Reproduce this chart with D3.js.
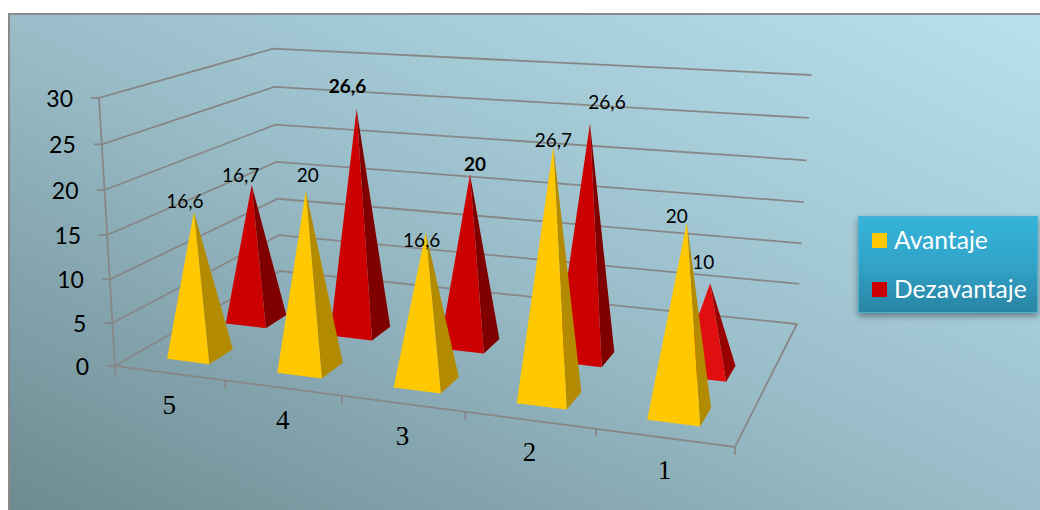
<!DOCTYPE html>
<html>
<head>
<meta charset="utf-8">
<style>
  html, body { margin: 0; padding: 0; background: #fff; }
  svg { display: block; }
</style>
<script src="https://cdn.jsdelivr.net/npm/d3@7"></script>
</head>
<body>
<div id="graph"></div>
<script>
// chart values
const categories = ["5", "4", "3", "2", "1"];
const seriesNames = ["Avantaje", "Dezavantaje"];
const avantaje = [16.6, 20, 16.6, 26.7, 20];
const dezavantaje = [16.7, 26.6, 20, 26.6, 10];
const valueTicks = [0, 5, 10, 15, 20, 25, 30];

const width = 1040, height = 510;

// unit cube -> screen, camera looking down at the box from the front
const cam = {
  xu: 520.9, xv: 225.3, xw: -20.4, x0: 115,
  yu: 20.7, yv: -36.6, yw: -272.4, y0: 366,
  du: -0.1348, dv: 0.2154, dw: -0.0444
};

function project(u, v, w) {
  const d = cam.du * u + cam.dv * v + cam.dw * w + 1;
  return [
    (cam.xu * u + cam.xv * v + cam.xw * w + cam.x0) / d,
    (cam.yu * u + cam.yv * v + cam.yw * w + cam.y0) / d
  ];
}

const x = d3.scaleBand().domain(categories).range([0, 1]).paddingInner(0.61).paddingOuter(0.305);
const z = d3.scaleBand().domain(seriesNames).range([0.1, 0.572]).paddingInner(0.6);
const y = d3.scaleLinear().domain([0, 30]).range([0, 1]);
const edge = d3.scaleLinear().domain([0, categories.length]).range([0, 1]);

const line = d3.line();

const svg = d3.select("#graph")
  .append("svg")
    .attr("width", width)
    .attr("height", height);

const defs = svg.append("defs");

const bg = defs.append("linearGradient")
    .attr("id", "bg")
    .attr("x1", 0).attr("y1", 1)
    .attr("x2", 1).attr("y2", 0);
bg.append("stop").attr("offset", 0).attr("stop-color", "#6e8a91");
bg.append("stop").attr("offset", 0.5).attr("stop-color", "#9abec9");
bg.append("stop").attr("offset", 1).attr("stop-color", "#b6e1ed");

const legendFill = defs.append("linearGradient")
    .attr("id", "legendFill")
    .attr("x1", 0).attr("y1", 0)
    .attr("x2", 0).attr("y2", 1);
legendFill.append("stop").attr("offset", 0).attr("stop-color", "#37b4da");
legendFill.append("stop").attr("offset", 0.5).attr("stop-color", "#31a3c8");
legendFill.append("stop").attr("offset", 1).attr("stop-color", "#2a84a3");

defs.append("filter")
    .attr("id", "legendShadow")
    .attr("x", "-10%").attr("y", "-10%")
    .attr("width", "120%").attr("height", "130%")
  .append("feDropShadow")
    .attr("dx", 0).attr("dy", 3)
    .attr("stdDeviation", 3)
    .attr("flood-color", "#000")
    .attr("flood-opacity", 0.4);

// panel, only its top and left edges fall inside the page
svg.append("rect")
    .attr("x", 9).attr("y", 14)
    .attr("width", width - 9).attr("height", height - 14)
    .attr("fill", "url(#bg)");

svg.append("path")
    .attr("d", line([[9, height], [9, 14], [width, 14]]))
    .attr("fill", "none")
    .attr("stroke", "#8a8a8a")
    .attr("stroke-width", 2);

// walls and floor
const gridColor = "#878787";
const grid = svg.append("g")
    .attr("fill", "none")
    .attr("stroke", gridColor)
    .attr("stroke-width", 1.8);

grid.selectAll(".wall")
  .data(valueTicks)
  .join("path")
    .attr("class", "wall")
    .attr("d", d => line([
      project(0, 0, y(d)),
      project(0, 1, y(d)),
      project(1, 1, y(d))
    ]));

grid.append("path")
    .attr("d", line([project(0, 0, 0), project(1, 0, 0), project(1, 1, 0)]));

grid.append("path")
    .attr("d", line([project(0, 0, 0), project(0, 0, 1)]));

grid.selectAll(".ytick")
  .data(valueTicks)
  .join("path")
    .attr("class", "ytick")
    .attr("d", d => {
      const p = project(0, 0, y(d));
      return line([[p[0] - 8, p[1]], p]);
    });

grid.selectAll(".xtick")
  .data(d3.range(categories.length + 1))
  .join("path")
    .attr("class", "xtick")
    .attr("d", d => {
      const p = project(edge(d), 0, 0);
      return line([p, [p[0], p[1] + 8]]);
    });

// value axis labels
svg.append("g")
    .attr("font-family", "Lato, sans-serif")
    .attr("font-size", 23)
    .attr("fill", "#000")
    .attr("text-anchor", "end")
  .selectAll("text")
  .data(valueTicks)
  .join("text")
    .attr("x", d => project(0, 0, y(d))[0] - 26)
    .attr("y", d => project(0, 0, y(d))[1] + 9)
    .text(d => d);

// category labels
svg.append("g")
    .attr("font-family", "'Liberation Serif', serif")
    .attr("font-size", 27)
    .attr("fill", "#000")
    .attr("text-anchor", "middle")
  .selectAll("text")
  .data(categories)
  .join("text")
    .attr("x", d => project(x(d) + x.bandwidth() / 2, 0, 0)[0])
    .attr("y", d => project(x(d) + x.bandwidth() / 2, 0, 0)[1] + 41)
    .text(d => d);

// one record per pyramid, reds first so the yellow ones sit in front of them
const red = { front: "#cc0000", side: "#800000" };
const redLast = { front: "#e00e0e", side: "#990000" };
const yellow = { front: "#ffc800", side: "#b38b00" };

// hand placed labels, offset from the pyramid tip
const nudgeRed = [[-11, -3], [-9, -16], [5, -3], [17, -15], [-7, -14]];
const nudgeYellow = [[-9, -4], [2, -9], [-4, 15], [0, 1], [-10, 1]];

const pyramids = [];
categories.forEach((c, i) => {
  pyramids.push({
    cat: c, series: seriesNames[1], value: dezavantaje[i],
    colors: c === "1" ? redLast : red,
    nudge: nudgeRed[i],
    bold: c === "4" || c === "3"
  });
});
categories.forEach((c, i) => {
  pyramids.push({
    cat: c, series: seriesNames[0], value: avantaje[i],
    colors: yellow,
    nudge: nudgeYellow[i],
    bold: false
  });
});

function corners(d) {
  const u0 = x(d.cat), u1 = u0 + x.bandwidth();
  const v0 = z(d.series), v1 = v0 + z.bandwidth();
  return {
    fl: project(u0, v0, 0),
    fr: project(u1, v0, 0),
    br: project(u1, v1, 0),
    apex: project((u0 + u1) / 2, (v0 + v1) / 2, y(d.value))
  };
}

const pyr = svg.append("g")
  .selectAll("g")
  .data(pyramids)
  .join("g");

pyr.append("path")
    .attr("fill", d => d.colors.side)
    .attr("d", d => {
      const c = corners(d);
      return line([c.fr, c.br, c.apex]) + "Z";
    });

pyr.append("path")
    .attr("fill", d => d.colors.front)
    .attr("d", d => {
      const c = corners(d);
      return line([c.fl, c.fr, c.apex]) + "Z";
    });

// data labels go on top of everything
svg.append("g")
    .attr("font-family", "Lato, sans-serif")
    .attr("font-size", 19)
    .attr("fill", "#000")
    .attr("text-anchor", "middle")
  .selectAll("text")
  .data(pyramids)
  .join("text")
    .attr("font-weight", d => d.bold ? "bold" : "normal")
    .attr("x", d => corners(d).apex[0] + d.nudge[0])
    .attr("y", d => corners(d).apex[1] + d.nudge[1])
    .text(d => String(d.value).replace(".", ","));

// legend
const legend = svg.append("g");

legend.append("rect")
    .attr("x", 858.5).attr("y", 216.5)
    .attr("width", 179).attr("height", 96)
    .attr("fill", "url(#legendFill)")
    .attr("stroke", "#4eb2d0")
    .attr("filter", "url(#legendShadow)");

const legendRow = d3.scaleOrdinal().domain(seriesNames).range([233, 282]);
const legendColor = d3.scaleOrdinal().domain(seriesNames).range([yellow.front, red.front]);

legend.selectAll(".swatch")
  .data(seriesNames)
  .join("rect")
    .attr("class", "swatch")
    .attr("x", 872)
    .attr("y", d => legendRow(d))
    .attr("width", 15).attr("height", 15)
    .attr("fill", d => legendColor(d));

legend.selectAll(".name")
  .data(seriesNames)
  .join("text")
    .attr("class", "name")
    .attr("x", 894)
    .attr("y", d => legendRow(d) + 16)
    .attr("font-family", "Lato, sans-serif")
    .attr("font-size", 24.6)
    .attr("fill", "#fff")
    .text(d => d);
</script>
</body>
</html>
